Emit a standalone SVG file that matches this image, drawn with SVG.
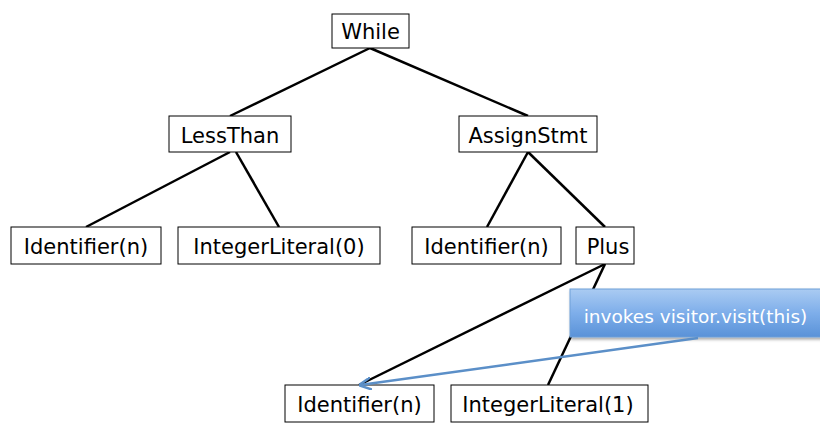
<svg xmlns="http://www.w3.org/2000/svg" width="820" height="423" viewBox="0 0 820 423">
<defs>
<style>
.box{fill:#fff;stroke:#000;stroke-width:1}
.t{font-family:"DejaVu Sans",sans-serif;font-size:21px;fill:#000;text-anchor:middle}
.e{stroke:#000;stroke-width:2.5;fill:none}
.ct{font-family:"DejaVu Sans",sans-serif;font-size:18.5px;fill:#fff;text-anchor:middle}
</style>
<linearGradient id="g" x1="0" y1="0" x2="0" y2="1">
<stop offset="0" stop-color="#aacbf2"/>
<stop offset="0.5" stop-color="#7eaeea"/>
<stop offset="1" stop-color="#5a92d8"/>
</linearGradient>
<marker id="ah" viewBox="0 0 10 10" refX="9" refY="5" markerWidth="5" markerHeight="5" orient="auto">
<path d="M0,0 L10,5 L0,10" fill="none" stroke="#5b8fc8" stroke-width="2"/>
</marker>
<filter id="sh" x="-10%" y="-20%" width="130%" height="160%">
<feDropShadow dx="1" dy="2" stdDeviation="1.5" flood-color="#000" flood-opacity="0.35"/>
</filter>
</defs>
<g id="connectors">
<line class="e" x1="370" y1="48" x2="230" y2="116"/>
<line class="e" x1="370" y1="48" x2="528" y2="116"/>
<line class="e" x1="230" y1="152" x2="86" y2="227"/>
<line class="e" x1="236" y1="152" x2="279" y2="227"/>
<line class="e" x1="528" y1="152" x2="487" y2="227"/>
<line class="e" x1="528" y1="152" x2="605" y2="227"/>
<line class="e" x1="605" y1="264" x2="359" y2="385"/>
<line class="e" x1="605" y1="264" x2="548" y2="385"/>
</g>
<g id="While"><rect class="box" x="332" y="14" width="77" height="34"/><text class="t" x="370.5" y="39">While</text></g>
<g id="LessThan"><rect class="box" x="169" y="116" width="122" height="36"/><text class="t" x="230" y="143">LessThan</text></g>
<g id="AssignStmt"><rect class="box" x="459" y="116" width="138" height="36"/><text class="t" x="528" y="143">AssignStmt</text></g>
<g id="Identifier1"><rect class="box" x="11" y="227" width="150" height="37"/><text class="t" x="86" y="254">Identifier(n)</text></g>
<g id="IntegerLiteral0"><rect class="box" x="178" y="227" width="202" height="37"/><text class="t" x="279" y="254">IntegerLiteral(0)</text></g>
<g id="Identifier2"><rect class="box" x="412" y="227" width="149" height="37"/><text class="t" x="486.5" y="254">Identifier(n)</text></g>
<g id="Plus"><rect class="box" x="576" y="227" width="58" height="37"/><text class="t" x="608" y="254">Plus</text></g>
<g id="Identifier3"><rect class="box" x="285" y="385" width="149" height="37"/><text class="t" x="359.5" y="412">Identifier(n)</text></g>
<g id="IntegerLiteral1"><rect class="box" x="451" y="385" width="197" height="37"/><text class="t" x="548" y="412">IntegerLiteral(1)</text></g>
<g id="callout">
<rect x="570" y="289" width="256" height="48" fill="url(#g)" stroke="#6f9fd8" stroke-width="1" filter="url(#sh)"/>
<text class="ct" x="695.5" y="323">invokes visitor.visit(this)</text>
</g>
<g id="callout-arrow">
<line x1="698" y1="338" x2="360" y2="385" stroke="#5b8fc8" stroke-width="2.5" marker-end="url(#ah)"/>
</g>
</svg>
